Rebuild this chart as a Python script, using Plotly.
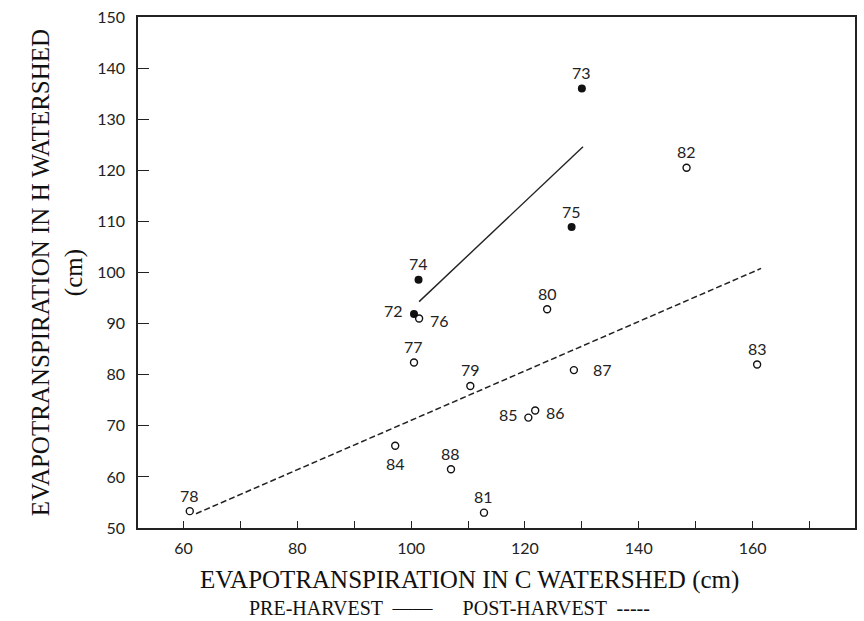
import plotly.graph_objects as go

# Pre-harvest years (filled markers)
pre_labels = ["72", "73", "74", "75"]
pre_c = [100.5, 130.0, 101.3, 128.2]
pre_h = [91.9, 136.0, 98.6, 108.9]

# Post-harvest years (open markers)
post_labels = ["76", "77", "78", "79", "80", "81", "82", "83", "84", "85", "86", "87", "88"]
post_c = [101.4, 100.5, 61.1, 110.4, 123.9, 112.8, 148.4, 160.8, 97.2, 120.6, 121.8, 128.6, 107.0]
post_h = [91.0, 82.4, 53.3, 77.8, 92.8, 53.0, 120.5, 82.0, 66.1, 71.6, 73.0, 80.9, 61.5]

# Regression lines (end points)
pre_line_c = [101.4, 130.2]
pre_line_h = [94.3, 124.6]
post_line_c = [62.2, 161.5]
post_line_h = [52.8, 100.8]

x_ticks = [60, 70, 80, 90, 100, 110, 120, 130, 140, 150, 160, 170]
x_ticktext = ["60", "", "80", "", "100", "", "120", "", "140", "", "160", ""]
y_ticks = [50, 60, 70, 80, 90, 100, 110, 120, 130, 140, 150]

# label placement (style)
place = {"72": "left", "76": "right", "85": "left", "86": "right", "87": "right2", "84": "below"}
shifts = {"above": (0, 16), "below": (0, -18), "left": (-20, 3), "right": (20, -2), "right2": (29, 1)}

fig = go.Figure()
fig.add_trace(go.Scatter(x=pre_line_c, y=pre_line_h, mode="lines",
                         line=dict(color="#222", width=1.4), showlegend=False))
fig.add_trace(go.Scatter(x=post_line_c, y=post_line_h, mode="lines",
                         line=dict(color="#222", width=1.5, dash="6px,3px"), showlegend=False))
fig.add_trace(go.Scatter(x=pre_c, y=pre_h, mode="markers",
                         marker=dict(symbol="circle", size=8, color="#111"), showlegend=False))
fig.add_trace(go.Scatter(x=post_c, y=post_h, mode="markers",
                         marker=dict(symbol="circle-open", size=7, color="#111", line=dict(width=1.4)),
                         showlegend=False))

label_font = dict(family="Lato, DejaVu Sans, sans-serif", size=16, color="#222")
for lab, xv, yv in list(zip(pre_labels, pre_c, pre_h)) + list(zip(post_labels, post_c, post_h)):
    dx, dy = shifts[place.get(lab, "above")]
    fig.add_annotation(x=xv, y=yv, text=lab, showarrow=False, xshift=dx, yshift=dy,
                       font=label_font)

title_font = dict(family="Liberation Serif, Times New Roman, serif", size=25, color="#111")
fig.add_annotation(xref="paper", yref="paper", x=-0.112, y=0.5, xanchor="center", yanchor="middle",
                   text="EVAPOTRANSPIRATION IN H WATERSHED<br>(cm)", textangle=-90,
                   showarrow=False, font=title_font)
fig.add_annotation(xref="paper", yref="paper", x=0.462, y=-0.101, xanchor="center", yanchor="middle",
                   text="EVAPOTRANSPIRATION IN C WATERSHED (cm)", showarrow=False, font=title_font)
fig.add_annotation(xref="paper", yref="paper", x=0.434, y=-0.156, xanchor="center", yanchor="middle",
                   text="PRE-HARVEST  ——      POST-HARVEST  -----", showarrow=False,
                   font=dict(family="Liberation Serif, Times New Roman, serif", size=20, color="#111"))

tick_font = dict(family="Lato, DejaVu Sans, sans-serif", size=16, color="#222")
fig.update_xaxes(range=[52, 178], tickvals=x_ticks, ticktext=x_ticktext, ticks="inside", ticklen=7,
                 tickcolor="#222", showline=True, linecolor="#222", linewidth=1.5, mirror=True,
                 showgrid=False, zeroline=False, tickfont=tick_font, ticklabelstandoff=5)
fig.update_yaxes(range=[50, 150], tickvals=y_ticks, ticks="inside", ticklen=11,
                 tickcolor="#222", showline=True, linecolor="#222", linewidth=1.5, mirror=True,
                 showgrid=False, zeroline=False, tickfont=tick_font, ticklabelstandoff=8)
fig.update_layout(width=864, height=621, margin=dict(l=138, r=7, t=12, b=93),
                  paper_bgcolor="white", plot_bgcolor="white")
fig.write_html("out.html")
